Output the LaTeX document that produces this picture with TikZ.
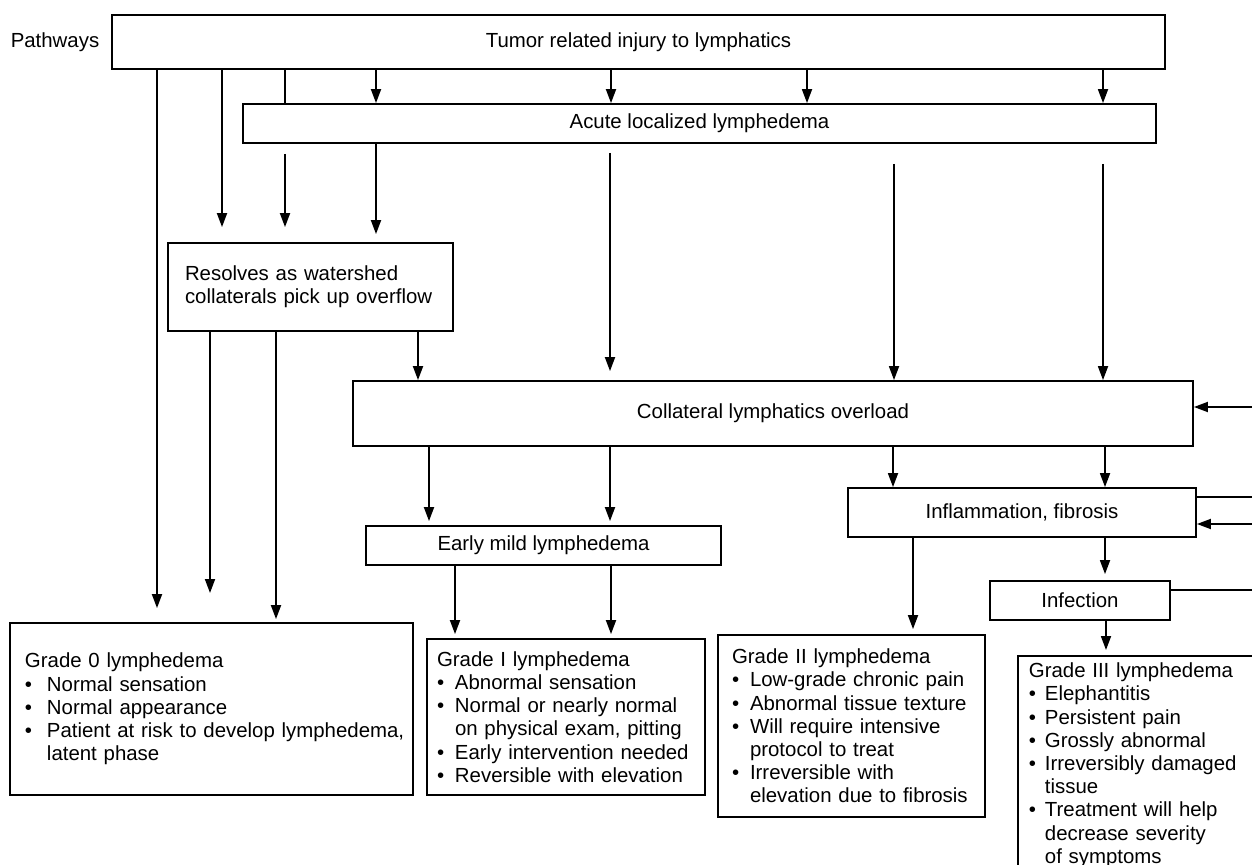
\documentclass[tikz,border=0pt]{standalone}
\usepackage{fontspec}
\setmainfont{Liberation Sans}
\usetikzlibrary{arrows.meta}
\newlength\bw
\newcommand\bu{\makebox[\bw][l]{•}}
\newcommand\ind{\hspace*{\bw}}
\tikzset{
  box/.style={draw, line width=0.9pt, inner sep=0pt, font=\fontsize{10.2}{11.6}\selectfont},
  gbox/.style={box, align=left},
  arr/.style={line width=0.9pt, -{Triangle[length=7pt,width=5pt]}},
  ln/.style={line width=0.9pt},
}
\begin{document}
\begin{tikzpicture}[x=0.5pt,y=-0.5pt]
\fill[white] (0,0) rectangle (1252,865);
\useasboundingbox (0,0) rectangle (1252,865);
\clip (0,0) rectangle (1252,865);

\node[font=\fontsize{10.2}{11.6}\selectfont] (pw) at (55,42) {Pathways};
\node[box, minimum width=526.5pt, minimum height=27pt] (top) at (638.5,42) {Tumor related injury to lymphatics};
\node[box, minimum width=456.5pt, minimum height=19.5pt] (acute) at (699.5,123.5) {Acute localized lymphedema};
\node[box, align=left, text width=125.5pt, inner xsep=8.5pt, minimum height=44pt] (res) at (310.5,287) {Resolves as watershed\\collaterals pick up overflow};
\node[box, minimum width=420pt, minimum height=32.5pt] (coll) at (773,413.5) {Collateral lymphatics overload};
\node[box, minimum width=177.5pt, minimum height=19.5pt] (early) at (543.5,545.5) {Early mild lymphedema};
\node[box, minimum width=174pt, minimum height=24.5pt] (infl) at (1022,512.5) {Inflammation, fibrosis};
\node[box, minimum width=90pt, minimum height=19.5pt] (inf) at (1080,600.5) {Infection};

\node[gbox, text width=186.5pt, inner xsep=7.5pt, minimum height=86pt] (g0) at (211.5,709) {\setlength\bw{11pt}Grade 0 lymphedema\\
\bu Normal sensation\\
\bu Normal appearance\\
\mbox{\bu Patient at risk to develop lymphedema,}\\
\ind latent phase};
\node[gbox, text width=129pt, inner xsep=5pt, minimum height=78pt] (g1) at (566,717) {\setlength\bw{9pt}Grade I lymphedema\\
\bu Abnormal sensation\\
\bu Normal or nearly normal\\
\ind on physical exam, pitting\\
\bu Early intervention needed\\
\bu Reversible with elevation};
\node[gbox, text width=119.5pt, inner xsep=7pt, minimum height=91pt] (g2) at (851.5,726) {\setlength\bw{9pt}Grade II lymphedema\\
\bu Low-grade chronic pain\\
\bu Abnormal tissue texture\\
\bu Will require intensive\\
\ind protocol to treat\\
\bu Irreversible with\\
\ind elevation due to fibrosis};
\node[gbox, anchor=north west, text width=118pt, inner xsep=5.5pt, inner ysep=3.5pt] (g3) at (1017,655) {\setlength\bw{8pt}Grade III lymphedema\\
\bu Elephantitis\\
\bu Persistent pain\\
\bu Grossly abnormal\\
\bu Irreversibly damaged\\
\ind tissue\\
\bu Treatment will help\\
\ind decrease severity\\
\ind of symptoms};

% from top box
\draw[arr, shorten >=7pt] (top.south -| 157,0) -- (g0.north -| 157,0);
\draw[arr, shorten >=7.5pt] (top.south -| 222,0) -- (res.north -| 222,0);
\draw[ln] (top.south -| 285,0) -- (acute.north -| 285,0);
\draw[arr, shorten <=5pt, shorten >=7.5pt] (acute.south -| 285,0) -- (res.north -| 285,0);
\foreach \x in {376,611,807,1103} \draw[arr] (top.south -| \x,0) -- (acute.north -| \x,0);

% from acute box
\draw[arr, shorten >=4pt] (acute.south -| 376,0) -- (res.north -| 376,0);
\draw[arr, shorten <=4.5pt, shorten >=4.5pt] (acute.south -| 610,0) -- (coll.north -| 610,0);
\foreach \x in {894,1103} \draw[arr, shorten <=10pt] (acute.south -| \x,0) -- (coll.north -| \x,0);

% from resolves box
\coordinate (e0) at (210,593);
\draw[arr] (res.south -| e0) -- (e0);
\draw[arr, shorten >=1.5pt] (res.south -| 276,0) -- (g0.north -| 276,0);
\draw[arr] (res.south -| 418,0) -- (coll.north -| 418,0);

% from collateral box
\foreach \x in {429,610} \draw[arr, shorten >=2pt] (coll.south -| \x,0) -- (early.north -| \x,0);
\foreach \x in {893,1105} \draw[arr] (coll.south -| \x,0) -- (infl.north -| \x,0);
\coordinate (r1) at (1252,407);
\draw[arr] (r1) -- (coll.east |- r1);

% from early mild
\foreach \x in {455,611} \draw[arr, shorten >=2pt] (early.south -| \x,0) -- (g1.north -| \x,0);

% from inflammation
\draw[arr, shorten >=2.5pt] (infl.south -| 913,0) -- (g2.north -| 913,0);
\draw[arr, shorten >=3pt] (infl.south -| 1105,0) -- (inf.north -| 1105,0);
\coordinate (r2) at (1252,497);
\draw[ln] (infl.east |- r2) -- (r2);
\coordinate (r3) at (1252,524);
\draw[arr] (r3) -- (infl.east |- r3);

% from infection
\draw[arr, shorten >=2.5pt] (inf.south -| 1106,0) -- (g3.north -| 1106,0);
\coordinate (r4) at (1252,590);
\draw[ln] (inf.east |- r4) -- (r4);
\end{tikzpicture}
\end{document}
